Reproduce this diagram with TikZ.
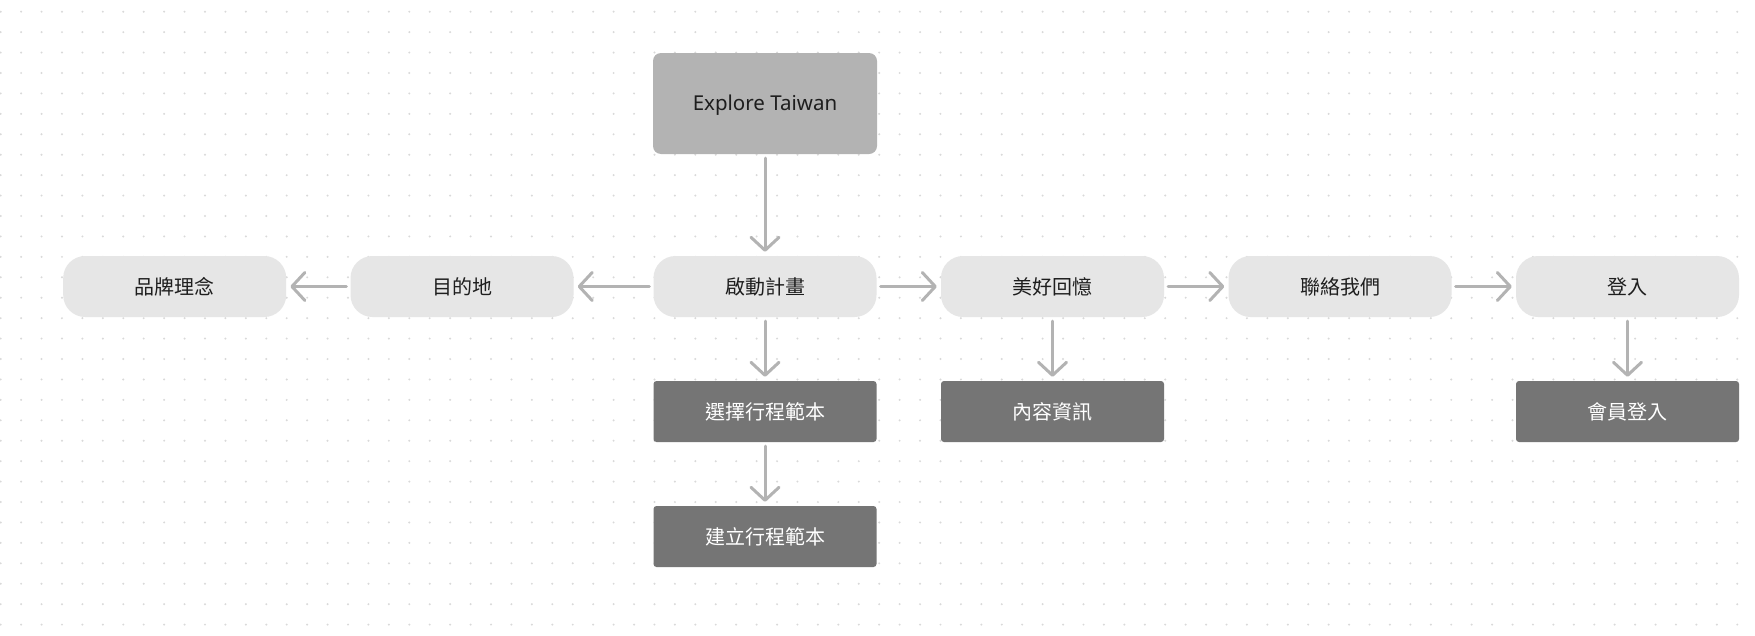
\documentclass[tikz,border=0pt]{standalone}
\usepackage{fontspec}
\setmainfont{Noto Sans CJK TC}
\newfontfamily\latinfont{Noto Sans}
\usetikzlibrary{arrows.meta}
\definecolor{dotc}{HTML}{D9D9D9}
\definecolor{arrowc}{HTML}{B3B3B3}
\definecolor{topc}{HTML}{B3B3B3}
\definecolor{pillc}{HTML}{E6E6E6}
\definecolor{darkc}{HTML}{757575}
\definecolor{txtc}{HTML}{1E1E1E}
\tikzset{
  base/.style={rectangle, inner sep=0pt, minimum width=223pt, minimum height=61pt,
    font=\fontsize{20}{24}\selectfont},
  topbox/.style={base, fill=topc, text=txtc, minimum width=224pt, minimum height=101pt,
    rounded corners=8pt, font=\latinfont\fontsize{20.5}{24}\selectfont,
    text height=14pt, text depth=0pt},
  pill/.style={base, fill=pillc, text=txtc, rounded corners=22pt},
  darkbox/.style={base, fill=darkc, text=white, rounded corners=3pt},
  conn/.style={draw=arrowc, line width=3pt, line cap=round,
    -{Straight Barb[length=13pt,width=28pt,line cap=round,line join=round]},
    shorten <=4pt, shorten >=4pt}
}
\begin{document}
\begin{tikzpicture}[x=1pt,y=-1pt]
\useasboundingbox (0,0) rectangle (1755,635);
\fill[white] (0,0) rectangle (1755,635);
\foreach \i in {0,...,85}{
  \foreach \j in {0,...,30}{
    \fill[dotc] (0.7+20.43*\i, 11.7+20.43*\j) circle (1.1pt);
  }
}
\node[topbox] (explore) at (765,103.5) {Explore Taiwan};
\node[pill] (brand) at (174.7,286.5) {品牌理念};
\node[pill] (dest) at (462,286.5) {目的地};
\node[pill] (start) at (765,286.5) {啟動計畫};
\node[pill] (memo) at (1052.5,286.5) {美好回憶};
\node[pill] (contact) at (1340,286.5) {聯絡我們};
\node[pill] (login) at (1627.5,286.5) {登入};
\node[darkbox] (select) at (765,411.5) {選擇行程範本};
\node[darkbox] (build) at (765,536.5) {建立行程範本};
\node[darkbox] (content) at (1052.5,411.5) {內容資訊};
\node[darkbox] (member) at (1627.5,411.5) {會員登入};
\draw[conn] (explore) -- (start);
\draw[conn] (start) -- (dest);
\draw[conn] (dest) -- (brand);
\draw[conn] (start) -- (memo);
\draw[conn] (memo) -- (contact);
\draw[conn] (contact) -- (login);
\draw[conn] (start) -- (select);
\draw[conn] (select) -- (build);
\draw[conn] (memo) -- (content);
\draw[conn] (login) -- (member);
\end{tikzpicture}
\end{document}
